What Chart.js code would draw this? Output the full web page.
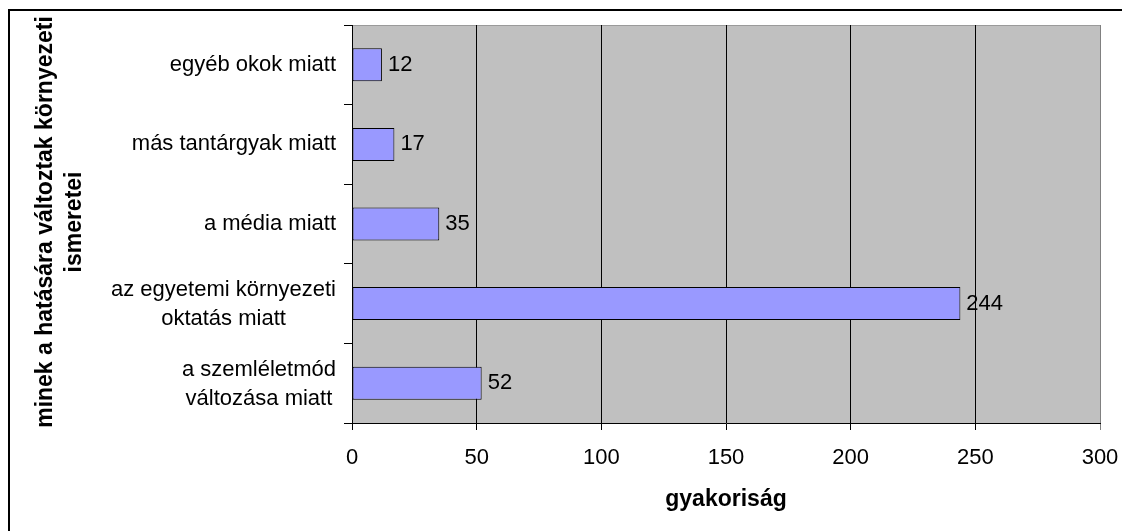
<!DOCTYPE html>
<html><head><meta charset="utf-8">
<script src="https://cdn.jsdelivr.net/npm/chart.js@4/dist/chart.umd.min.js"></script>
<style>html,body{margin:0;padding:0;background:#fff}#wrap{width:1122px;height:531px;position:relative}canvas{display:block}</style>
</head><body><div id="wrap"><canvas id="c" width="1122" height="531"></canvas></div>
<script>
// ---- data ----
const categories = [
  ["egyéb okok miatt"],
  ["más tantárgyak miatt"],
  ["a média miatt"],
  ["az egyetemi környezeti", "oktatás miatt"],
  ["a szemléletmód", "változása miatt"]
];
const values = [12, 17, 35, 244, 52];
const xTickValues = [0, 50, 100, 150, 200, 250, 300];
const xTitle = "gyakoriság";
const yTitle = ["minek a hatására változtak környezeti", "ismeretei"];

const FONT = "'Liberation Sans', Arial, sans-serif";
const FS = 22;
const FSB = 23;

const decor = {
  id: 'decor',
  beforeDraw(chart) {
    const {ctx, chartArea: a} = chart;
    ctx.save();
    ctx.fillStyle = '#fff';
    ctx.fillRect(0, 0, chart.width, chart.height);
    ctx.fillStyle = '#C0C0C0';
    ctx.fillRect(a.left, a.top, a.right - a.left, a.bottom - a.top);
    ctx.strokeStyle = '#9a9a9a';
    ctx.lineWidth = 1;
    ctx.beginPath();
    ctx.moveTo(a.left, a.top + 0.5);
    ctx.lineTo(a.right, a.top + 0.5);
    ctx.stroke();
    // outer chart border
    ctx.strokeStyle = '#000';
    ctx.lineWidth = 2;
    ctx.strokeRect(9, 10, chart.width + 20, chart.height + 20);
    ctx.restore();
  },
  afterDatasetsDraw(chart) {
    const {ctx} = chart;
    const meta = chart.getDatasetMeta(0);
    ctx.save();
    ctx.font = FS + 'px ' + FONT;
    ctx.fillStyle = '#000';
    ctx.textAlign = 'left';
    ctx.textBaseline = 'middle';
    meta.data.forEach((bar, i) => {
      ctx.fillText(String(values[i]), bar.x + 6, bar.y);
    });
    ctx.restore();
  },
  afterDraw(chart) {
    const {ctx, chartArea: a} = chart;
    const yScale = chart.scales.y;
    const xScale = chart.scales.x;
    ctx.save();
    ctx.fillStyle = '#000';
    // category labels: block right-aligned, lines centered within block
    ctx.font = FS + 'px ' + FONT;
    ctx.textBaseline = 'middle';
    ctx.textAlign = 'center';
    const rightEdge = yScale.right - 16;
    const lineGap = 29;
    categories.forEach((lines, i) => {
      const w = Math.max(...lines.map(l => ctx.measureText(l).width));
      const cx = rightEdge - w / 2;
      const cy = yScale.getPixelForValue(i);
      const off = lines.length > 1 ? 1 : 0;
      lines.forEach((l, j) => {
        ctx.fillText(l, cx, cy + off + (j - (lines.length - 1) / 2) * lineGap);
      });
    });
    // x title (centred over plot area)
    ctx.font = 'bold ' + FSB + 'px ' + FONT;
    ctx.textAlign = 'center';
    ctx.fillText(xTitle, (xScale.left + xScale.right) / 2, 500);
    // y title
    ctx.translate(0, (a.top + a.bottom) / 2 - 2);
    ctx.rotate(-Math.PI / 2);
    yTitle.forEach((l, j) => {
      ctx.fillText(l, 0, 46 + j * 29);
    });
    ctx.restore();
  }
};

new Chart(document.getElementById('c'), {
  type: 'bar',
  data: {
    labels: categories.map(c => c.join(' ')),
    datasets: [{
      data: values,
      backgroundColor: '#9999FF',
      borderColor: '#000',
      borderWidth: 1,
      borderSkipped: false,
      barPercentage: 0.415,
      categoryPercentage: 1.0
    }]
  },
  options: {
    indexAxis: 'y',
    responsive: false,
    animation: false,
    devicePixelRatio: 1,
    layout: {padding: {left: 0, top: 25, right: 22, bottom: 0}},
    plugins: {legend: {display: false}, tooltip: {enabled: false}},
    scales: {
      x: {
        type: 'linear',
        min: 0, max: 300,
        afterBuildTicks: s => { s.ticks = xTickValues.map(v => ({value: v})); },
        ticks: {color: '#000', font: {family: FONT, size: FS}, padding: 15, maxRotation: 0},
        grid: {
          color: c => (c.tick && c.tick.value === 300) ? '#808080' : '#000',
          lineWidth: 1,
          tickLength: 7,
          drawOnChartArea: true
        },
        border: {color: '#000', width: 1},
        afterFit: s => { s.height = 108; s.paddingLeft = 0; s.paddingRight = 0; }
      },
      y: {
        type: 'category',
        offset: true,
        ticks: {display: false},
        grid: {drawOnChartArea: false, color: '#000', tickLength: 8, offset: true},
        border: {color: '#000', width: 1},
        afterFit: s => { s.width = 352; s.paddingTop = 0; s.paddingBottom = 0; }
      }
    }
  },
  plugins: [decor]
});
</script>
</body></html>
